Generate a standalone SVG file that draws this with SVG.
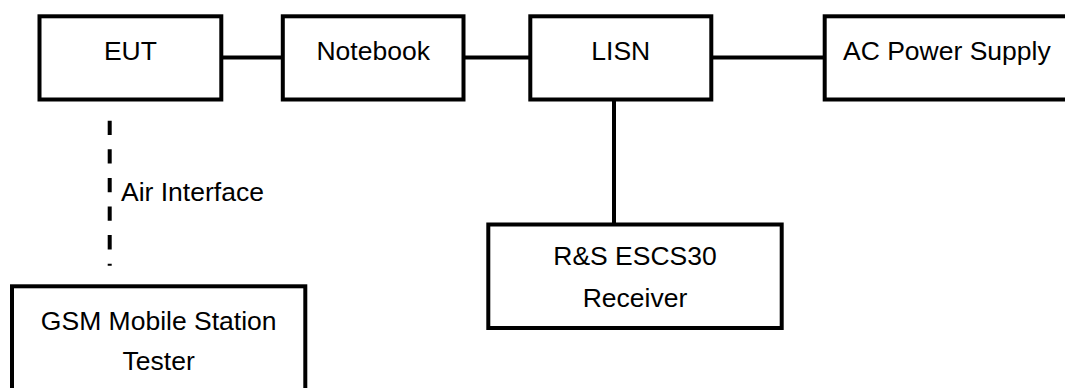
<svg xmlns="http://www.w3.org/2000/svg" width="1065" height="388" viewBox="0 0 1065 388">
<style>
.box{fill:#fff;stroke:#000;stroke-width:4}
.t{font-family:"Liberation Sans",Arial,sans-serif;font-size:26.5px;fill:#000;text-anchor:middle}
.ln{stroke:#000;stroke-width:4;fill:none}
</style>
<rect width="1065" height="388" fill="#fff"/>
<g id="connectors">
<line class="ln" x1="221.3" y1="57.5" x2="282.8" y2="57.5"/>
<line class="ln" x1="463.5" y1="57.5" x2="530.3" y2="57.5"/>
<line class="ln" x1="711.3" y1="57.5" x2="824.7" y2="57.5"/>
<line class="ln" x1="614" y1="99.5" x2="614" y2="224.5"/>
<line class="ln" x1="109.7" y1="120.7" x2="109.7" y2="265.7" stroke-dasharray="14.3 14.3"/>
<text class="t" x="121" y="201" style="text-anchor:start">Air Interface</text>
</g>
<g id="eut">
<rect class="box" x="39.5" y="16.3" width="181.8" height="83.2"/>
<text class="t" x="130.4" y="59.5">EUT</text>
</g>
<g id="notebook">
<rect class="box" x="282.8" y="16.3" width="180.7" height="83.2"/>
<text class="t" x="373.2" y="59.5">Notebook</text>
</g>
<g id="lisn">
<rect class="box" x="530.3" y="16.3" width="181" height="83.2"/>
<text class="t" x="620.8" y="59.5">LISN</text>
</g>
<g id="ac">
<rect class="box" x="824.7" y="16.3" width="260" height="83.2"/>
<text class="t" x="843" y="59.5" style="text-anchor:start">AC Power Supply</text>
</g>
<g id="receiver">
<rect class="box" x="488.3" y="224.5" width="293.4" height="103.5"/>
<text class="t" x="635" y="265">R&amp;S ESCS30</text>
<text class="t" x="635" y="307">Receiver</text>
</g>
<g id="gsm">
<rect class="box" x="12" y="286.3" width="293.3" height="130"/>
<text class="t" x="158.7" y="329.5">GSM Mobile Station</text>
<text class="t" x="158.7" y="370">Tester</text>
</g>
</svg>
